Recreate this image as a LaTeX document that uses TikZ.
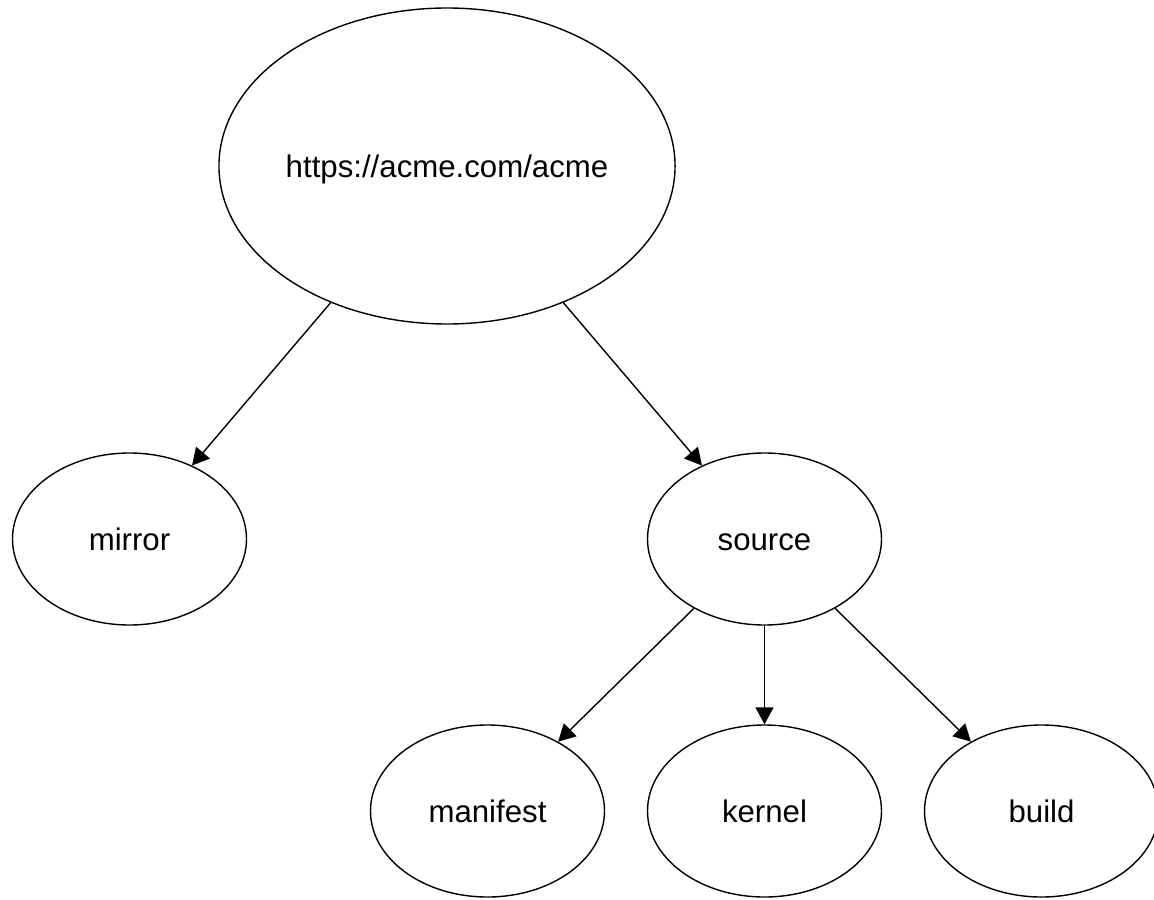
\documentclass[tikz,border=0pt]{standalone}
\usepackage{fontspec}
\setmainfont{Liberation Sans}
\usetikzlibrary{shapes.geometric,arrows.meta}

\begin{document}
\begin{tikzpicture}[x=1pt, y=1pt,
  every node/.style={ellipse, draw, line width=0.7pt, inner sep=0pt,
                     text height=11pt, text depth=0pt,
                     font=\fontsize{15.6}{18}\selectfont},
  leaf/.style={minimum width=117pt, minimum height=86pt},
  edge from parent/.style={draw, line width=0.7pt,
                           -{Triangle[length=8.5pt,width=9pt]}},
  level 1/.style={sibling distance=317.5pt, level distance=186.5pt},
  level 2/.style={sibling distance=138.5pt, level distance=136pt}]
\useasboundingbox (0,0) rectangle (577,-449.5);
\node[minimum width=219pt, minimum height=158pt] (repo) at (223.5,-83) {https://acme.com/acme}
  child {node[leaf] (mirror) {mirror}}
  child {node[leaf] (source) {source}
    child {node[leaf] (manifest) {manifest}}
    child {node[leaf] (kernel) {kernel}}
    child {node[leaf] (build) {build}}
  };
\end{tikzpicture}
\end{document}
